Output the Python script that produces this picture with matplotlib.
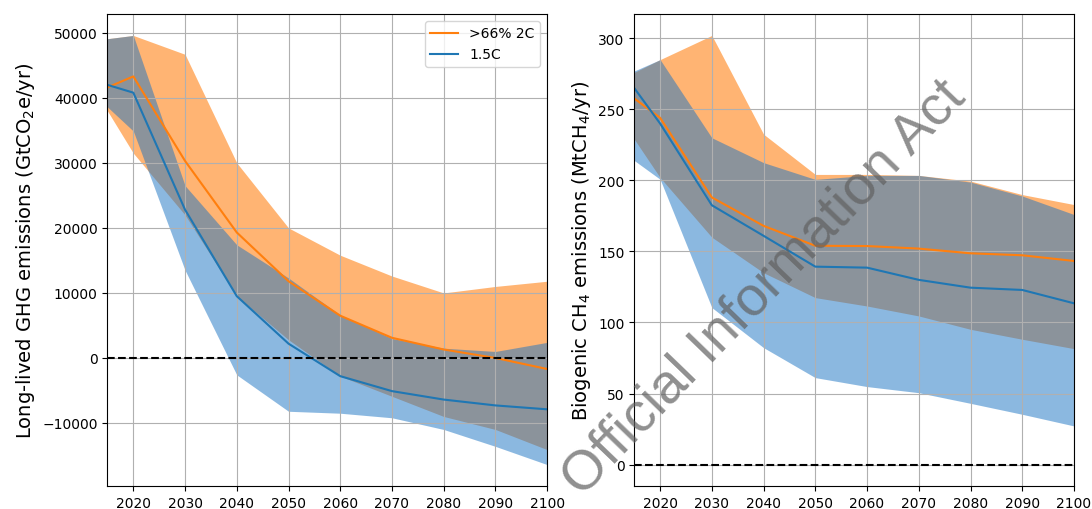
import numpy as np
import matplotlib
matplotlib.use("Agg")
import matplotlib.pyplot as plt

years = [2015, 2020, 2030, 2040, 2050, 2060, 2070, 2080, 2090, 2100]

# long-lived GHG (GtCO2e/yr)
ghg_2c_med = [41600, 43300, 30300, 19300, 11800, 6500, 3100, 1300, 0, -1700]
ghg_2c_lo = [38000, 31500, 22000, 9500, 2800, -2800, -5900, -9000, -11000, -14100]
ghg_2c_hi = [49100, 49600, 46700, 30000, 20000, 15800, 12600, 10000, 11000, 11800]
ghg_15_med = [42000, 40800, 22800, 9500, 2200, -2800, -5100, -6400, -7300, -7900]
ghg_15_lo = [38600, 34900, 13500, -2600, -8200, -8500, -9200, -11000, -13600, -16400]
ghg_15_hi = [49100, 49600, 26500, 17400, 12300, 6600, 3000, 1500, 1000, 2400]

# biogenic CH4 (MtCH4/yr)
ch4_2c_med = [257.7, 244, 188, 168, 154, 153.8, 152, 148.7, 147.3, 143.3]
ch4_2c_lo = [229, 202, 160, 135, 117.5, 111.6, 104.6, 95.2, 88.2, 81.6]
ch4_2c_hi = [276, 285, 302, 232.5, 204.2, 204.2, 203.5, 199.5, 190, 183]
ch4_15_med = [265, 240, 182.5, 161, 139.3, 138.6, 130, 124.5, 122.9, 113.5]
ch4_15_lo = [214, 200.8, 110.5, 82.3, 61.2, 54.9, 50.6, 43.1, 35.4, 27.2]
ch4_15_hi = [277, 285, 230, 212.5, 200.7, 203.5, 203.5, 198.8, 189, 176]

fig, axes = plt.subplots(1, 2, figsize=(10.92, 5.1), dpi=100)
plt.subplots_adjust(left=0.0984, right=0.9835, bottom=0.045, top=0.9706, wspace=0.198)

panels = [
    (axes[0], ghg_2c_med, ghg_2c_lo, ghg_2c_hi, ghg_15_med, ghg_15_lo, ghg_15_hi,
     "Long-lived GHG emissions (GtCO$_2$e/yr)"),
    (axes[1], ch4_2c_med, ch4_2c_lo, ch4_2c_hi, ch4_15_med, ch4_15_lo, ch4_15_hi,
     "Biogenic CH$_4$ emissions (MtCH$_4$/yr)"),
]

for ax, m2, l2, h2, m15, l15, h15, lab in panels:
    ax.fill_between(years, l2, h2, color="C1", alpha=0.58, lw=0)
    ax.fill_between(years, l15, h15, color="#1973c3", alpha=0.5, lw=0)
    ax.plot(years, m2, color="C1", label=">66% 2C")
    ax.plot(years, m15, color="C0", label="1.5C")
    ax.axhline(0, color="k", ls="--", lw=1.5)
    ax.set_xlim(2015, 2100)
    ax.set_xticks(range(2020, 2101, 10))
    ax.grid(True)
    ax.set_ylabel(lab, fontsize=14)
    ax.tick_params(labelsize=10)

axes[0].legend(loc="upper right", fontsize=10)

# watermark over the whole figure
fig.text(0.70, 0.435, "Official Information Act", rotation=46, fontsize=40,
         family="Liberation Sans", color="#606060", alpha=0.7,
         ha="center", va="center", rotation_mode="anchor")

fig.savefig("out.png")
